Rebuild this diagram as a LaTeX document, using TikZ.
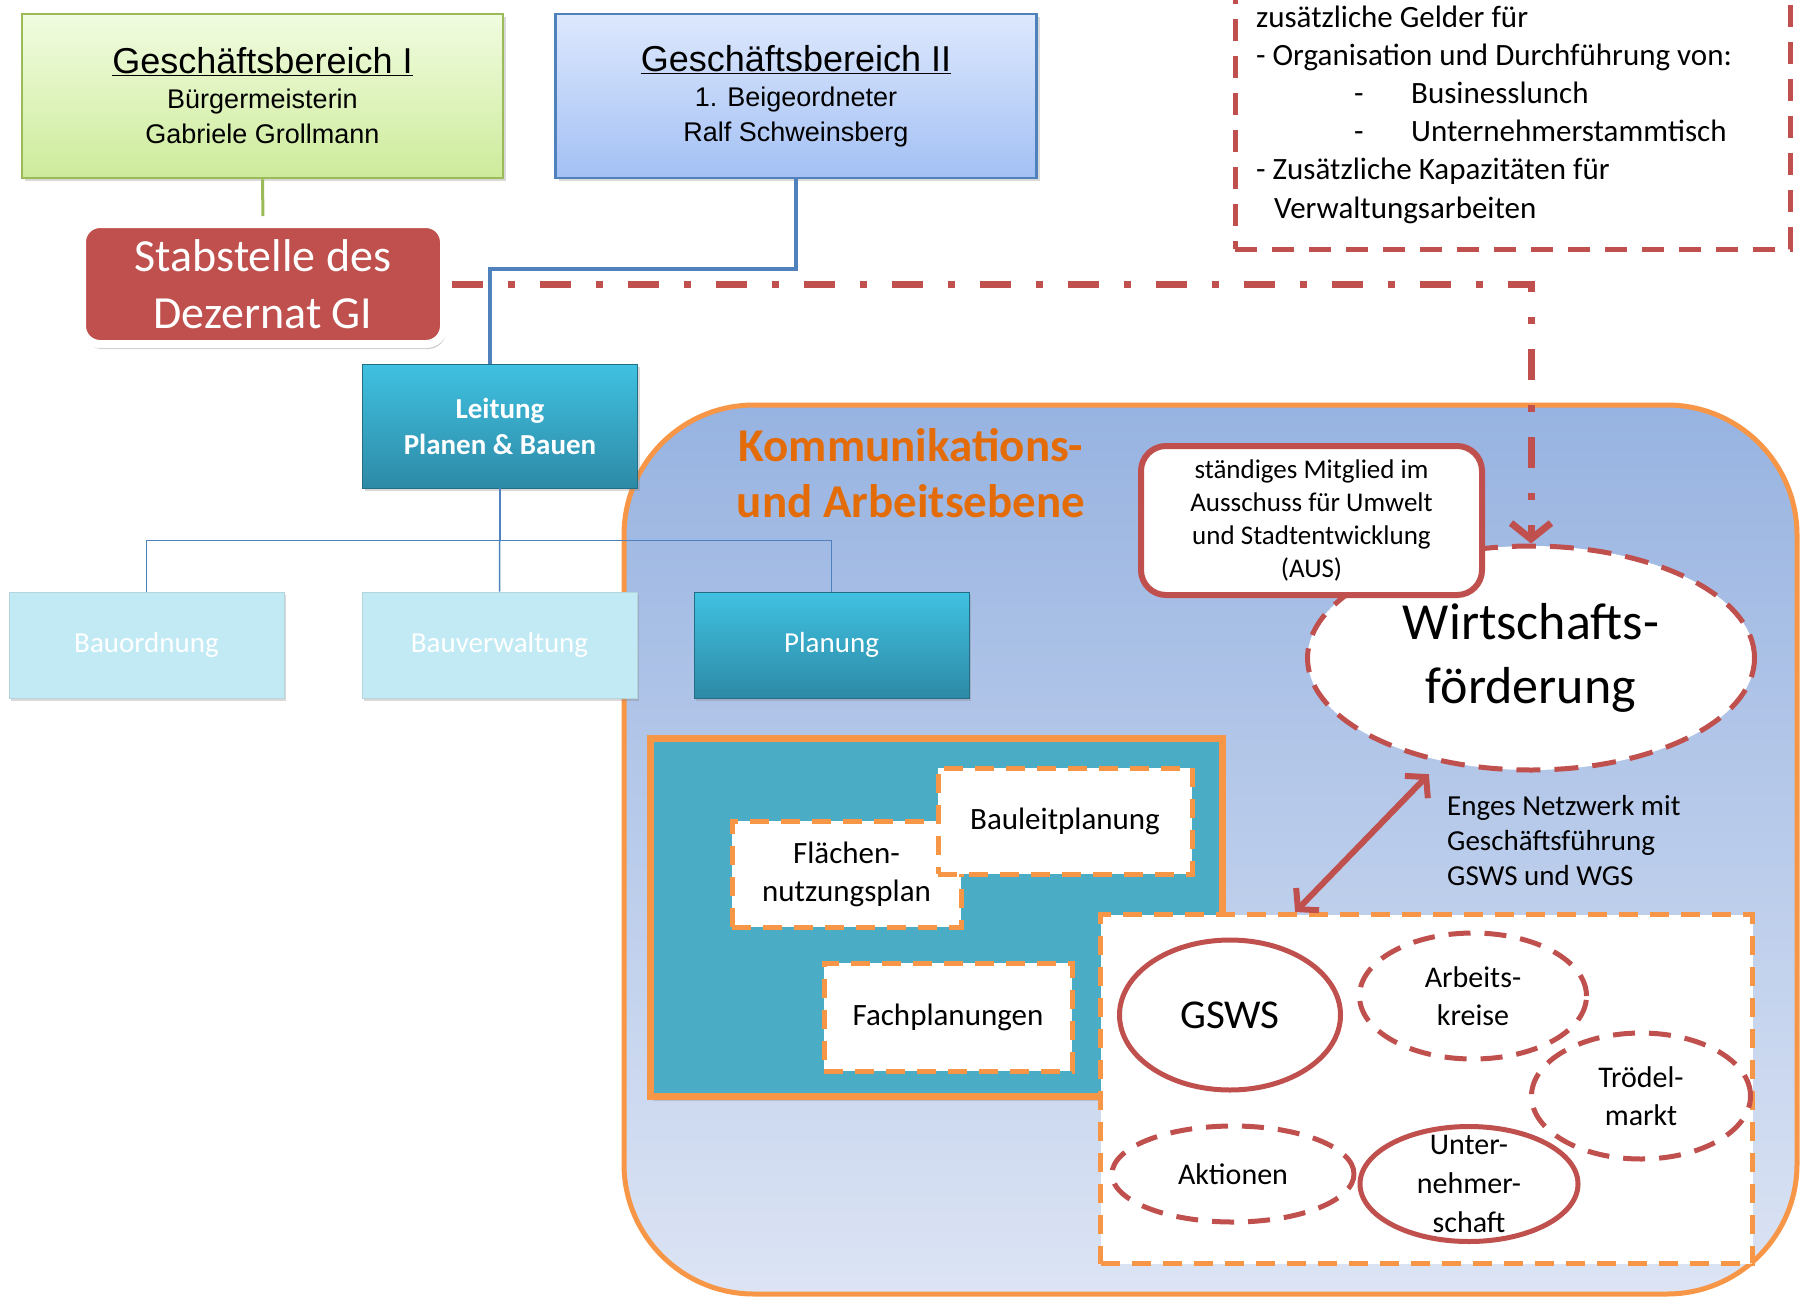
\documentclass[tikz,border=0pt]{standalone}
\usepackage{fontspec}
\setmainfont{Carlito}
\newfontfamily\arialfont{Liberation Sans}
\usetikzlibrary{shapes.geometric,arrows.meta,shadows,calc}
\definecolor{redline}{HTML}{C0504D}
\definecolor{orangeline}{HTML}{F79646}
\definecolor{blueline}{HTML}{4F81BD}
\definecolor{greenline}{HTML}{9BBB59}
\definecolor{tealfill}{HTML}{4BACC6}
\definecolor{titleorange}{HTML}{E36C09}
\definecolor{cyantop}{HTML}{40C1E1}
\definecolor{cyanbot}{HTML}{2D8AA6}
\definecolor{lightcyan}{HTML}{C2EAF4}
\definecolor{areatop}{HTML}{97B3E1}
\definecolor{areabot}{HTML}{DCE4F4}
\definecolor{gbgreentop}{HTML}{F1FCE0}
\definecolor{gbgreenbot}{HTML}{CDEB9B}
\definecolor{gbbluetop}{HTML}{DDE8FD}
\definecolor{gbbluebot}{HTML}{A3C0F4}

\begin{document}
\begin{tikzpicture}[x=1pt,y=-1pt,
    gbbox/.style={line width=2.5pt,minimum width=481pt,minimum height=164pt,inner sep=0,align=center,
      font=\arialfont\fontsize{27pt}{35pt}\selectfont,
      drop shadow={opacity=0.3,shadow xshift=3pt,shadow yshift=-3pt}},
    orgbox/.style={minimum width=275pt,minimum height=106pt,inner sep=0,align=center,text=white,
      font=\fontsize{29pt}{36pt}\selectfont,
      drop shadow={opacity=0.3,shadow xshift=2pt,shadow yshift=-3pt}},
    darkbox/.style={orgbox,draw=cyanbot!80!black,line width=0.8pt,top color=cyantop,bottom color=cyanbot},
    lightbox/.style={orgbox,draw=lightcyan!80!gray,line width=0.8pt,fill=lightcyan},
    planbox/.style={draw=orangeline,line width=5pt,dash pattern=on 19pt off 12pt,fill=white,
      inner sep=0,align=center,font=\fontsize{31pt}{38pt}\selectfont},
    bubble/.style={ellipse,draw=redline,line width=5pt,inner sep=0,align=center,
      font=\fontsize{30pt}{38pt}\selectfont},
    dashedbubble/.style={bubble,dash pattern=on 22pt off 14pt}]
    \pgfmathsetmacro{\arearadius}{130}
    \providecommand{\gbtitlesize}{\fontsize{36pt}{40pt}\selectfont}
    \providecommand{\boxtextsize}{\fontsize{31pt}{38.2pt}\selectfont}
    \useasboundingbox (0,0) rectangle (1802,1299);
    \clip (0,0) rectangle (1802,1299);
    % Kommunikations- und Arbeitsebene
    \node[draw=orangeline,line width=5pt,rounded corners=\arearadius pt,top color=areatop,bottom color=areabot,
      minimum width=1173pt,minimum height=889pt] (ebene) at (1210.5,849.5) {};
    \node[font=\bfseries\fontsize{47pt}{56pt}\selectfont,text=titleorange,align=center] (ebenetitel) at (911,473)
      {Kommunikations-\\und Arbeitsebene};
    \node[draw=redline,line width=5pt,dash pattern=on 22pt off 15pt,minimum width=555pt,minimum height=300pt] (gelder) at (1512.5,99) {};
    \node[anchor=base west,align=left,inner sep=0,font=\boxtextsize] (geldertext) at (1256,218)
      {zusätzliche Gelder für\\
       - Organisation und Durchführung von:\\
       \hspace*{98pt}\makebox[57pt][l]{-}Businesslunch\\
       \hspace*{98pt}\makebox[57pt][l]{-}Unternehmerstammtisch\\
       - Zusätzliche Kapazitäten für\\
       \hspace*{18pt}Verwaltungsarbeiten};
    % Geschaeftsbereiche
    \node[gbbox,draw=greenline,top color=gbgreentop,bottom color=gbgreenbot] (gb1) at (262.5,96)
      {{\gbtitlesize\underline{Geschäftsbereich I}}\\Bürgermeisterin\\Gabriele Grollmann};
    \node[gbbox,draw=blueline,top color=gbbluetop,bottom color=gbbluebot] (gb2) at (796,96)
      {{\gbtitlesize\underline{Geschäftsbereich II}}\\1. Beigeordneter\\Ralf Schweinsberg};
    \node[fill=redline,draw=white,line width=8pt,rounded corners=18pt,minimum width=362pt,minimum height=120pt,
      text=white,align=center,font=\fontsize{46pt}{57pt}\selectfont,
      drop shadow={opacity=0.4,shadow xshift=2pt,shadow yshift=-5pt}] (stab) at (263,284) {Stabstelle des\\Dezernat GI};
    \node[darkbox,minimum height=124pt,font=\bfseries\fontsize{29pt}{36pt}\selectfont] (leitung) at (500,426)
      {Leitung\\Planen \& Bauen};
    \node[lightbox] (bauordnung) at (146.5,645) {Bauordnung};
    \node[lightbox] (bauverwaltung) at (499.5,645) {Bauverwaltung};
    \node[darkbox] (planung) at (831.5,645) {Planung};
    % Planungsfeld
    \node[draw=orangeline,line width=7pt,fill=tealfill,minimum width=572pt,minimum height=358pt,
      drop shadow={opacity=0.3,shadow xshift=2pt,shadow yshift=-4pt}] (planfeld) at (936.5,917.5) {};
    \node[planbox,minimum width=229pt,minimum height=106pt] (flaechen) at (846.5,874) {Flächen-\\nutzungsplan};
    \node[planbox,minimum width=254pt,minimum height=106pt] (bauleit) at (1065,821) {Bauleitplanung};
    \node[planbox,minimum width=248pt,minimum height=108pt] (fach) at (948,1017) {Fachplanungen};
    % Netzwerk
    \node[draw=orangeline,line width=5pt,dash pattern=on 19pt off 12pt,fill=white,minimum width=652pt,minimum height=349pt] (netz) at (1426.5,1089) {};
    \node[bubble,minimum width=221pt,minimum height=150pt,font=\fontsize{41pt}{48pt}\selectfont] (gsws) at (1230,1015) {GSWS};
    \node[dashedbubble,minimum width=227pt,minimum height=126pt] (arbeitskreise) at (1473,996) {Arbeits-\\kreise};
    \node[dashedbubble,minimum width=219pt,minimum height=126pt] (troedel) at (1641,1096) {Trödel-\\markt};
    \node[dashedbubble,minimum width=242pt,minimum height=96pt] (aktionen) at (1233,1174) {Aktionen};
    \node[bubble,minimum width=218pt,minimum height=115pt,
      label={[align=center,font=\fontsize{30pt}{39pt}\selectfont]center:Unter-\\nehmer-\\schaft}] (unternehmer) at (1469,1184) {};
    \node[bubble,dash pattern=on 24pt off 14pt,fill=white,minimum width=447pt,minimum height=224pt,
      font=\fontsize{52pt}{64pt}\selectfont] (wf) at (1531,658) {Wirtschafts-\\förderung};
    \node[draw=redline,line width=6pt,fill=white,rounded corners=25pt,minimum width=341pt,minimum height=149pt,
      align=center,font=\fontsize{27pt}{33pt}\selectfont] (aus) at (1311.5,520.5)
      {ständiges Mitglied im\\Ausschuss für Umwelt\\und Stadtentwicklung\\(AUS)};
    \node[anchor=base west,align=left,inner sep=0,font=\fontsize{29pt}{35pt}\selectfont] (netztext) at (1447,885)
      {Enges Netzwerk mit\\Geschäftsführung\\GSWS und WGS};
    % Verbindungen
    \draw[greenline,line width=3pt,shorten >=4pt] (gb1.south) -- (stab.north);
    \draw[blueline,line width=4pt] (gb2.south) -- ++(0,90) -| ([xshift=-10pt]leitung.north);
    \draw[blueline,line width=1.5pt] (leitung.south) -- ++(0,52) -| (bauordnung.north);
    \draw[blueline,line width=1.5pt] (leitung.south) -- (bauverwaltung.north);
    \draw[blueline,line width=1.5pt] (leitung.south) ++(0,52) -| (planung.north);
    \draw[redline,line width=7pt,dash pattern=on 31pt off 25pt on 7pt off 25pt,shorten <=4pt,
      -{Straight Barb[length=16pt,width=40pt]}] (stab.east) -| (wf.north);
    \draw[redline,line width=6pt,{Straight Barb[length=14pt,width=32pt]}-{Straight Barb[length=14pt,width=32pt]}]
      ($(netz.north west)!0.3!(netz.north east)$) -- ([yshift=-14pt]wf.225);
\end{tikzpicture}
\end{document}
